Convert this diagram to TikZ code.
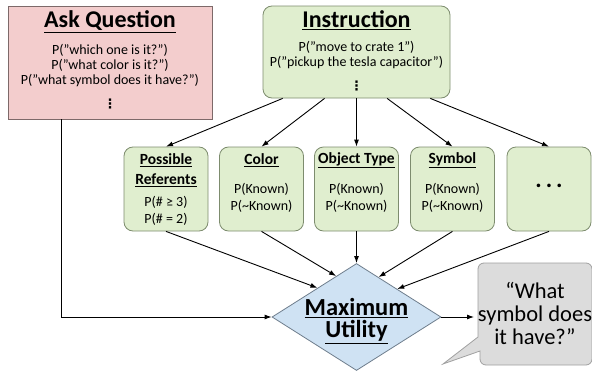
\documentclass[tikz,border=0pt]{standalone}
\usepackage{fontspec}
\setmainfont{Carlito}
\newfontfamily\dejavufont{DejaVu Sans}
\usetikzlibrary{shapes.geometric,arrows.meta,calc}
\definecolor{pinkfill}{RGB}{243,205,205}
\definecolor{pinkdraw}{RGB}{125,105,105}
\definecolor{greenfill}{RGB}{224,238,207}
\definecolor{greendraw}{RGB}{125,140,110}
\definecolor{bluefill}{RGB}{207,226,243}
\definecolor{bluedraw}{RGB}{110,125,140}
\definecolor{greyfill}{RGB}{220,220,220}
\definecolor{greydraw}{RGB}{160,160,160}
\tikzset{
  pinkbox/.style={draw=pinkdraw, fill=pinkfill, line width=0.8pt, inner sep=0pt},
  greenbox/.style={draw=greendraw, fill=greenfill, line width=0.8pt, rounded corners=9pt, inner sep=0pt},
  bigtitle/.style={font=\fontsize{24}{26}\selectfont\bfseries, inner sep=0pt},
  smalltitle/.style={font=\fontsize{15.5}{17}\selectfont\bfseries, inner sep=0pt},
  body/.style={font=\fontsize{14}{16}\selectfont, inner sep=0pt},
  dots/.style={font=\dejavufont\fontsize{13}{13}\selectfont\bfseries, inner sep=0pt},
  conn/.style={line width=0.9pt, -{Latex[length=7pt,width=5pt]}},
}
\begin{document}
\begin{tikzpicture}[x=1pt,y=-1pt]
\useasboundingbox (0,0) rectangle (592,372);
% Ask Question
\node[pinkbox, minimum width=204pt, minimum height=113pt] (ask) at (110,62.5) {};
\node[bigtitle] (askt) at (110,22) {\underline{Ask Question}};
\node[body] (ask1) at (110,50) {P(”which one is it?”)};
\node[body] (ask2) at (110,65.5) {P(”what color is it?”)};
\node[body] (ask3) at (110,81) {P(”what symbol does it have?”)};
\node[dots] (ask4) at (110,104) {⋮};
% Instruction
\node[greenbox, minimum width=187pt, minimum height=92pt] (ins) at (356.5,52) {};
\node[bigtitle] (inst) at (356.5,20) {\underline{Instruction}};
\node[body] (ins1) at (356.5,47) {P(”move to crate 1”)};
\node[body] (ins2) at (356.5,63) {P(”pickup the tesla capacitor”)};
\node[dots] (ins3) at (356.5,86) {⋮};
% Row of boxes
\node[greenbox, minimum width=84pt, minimum height=84pt] (pr) at (166,189) {};
\node[greenbox, minimum width=84pt, minimum height=84pt] (col) at (261.5,189) {};
\node[greenbox, minimum width=84pt, minimum height=84pt] (obj) at (356.5,189) {};
\node[greenbox, minimum width=84pt, minimum height=84pt] (sym) at (452.5,189) {};
\node[greenbox, minimum width=84pt, minimum height=84pt] (etc) at (549,189) {};
\node[smalltitle] (prt1) at (166,160) {\underline{Possible}};
\node[smalltitle] (prt2) at (166,180) {\underline{Referents}};
\node[body] (pr1) at (166,202) {P(\# ≥ 3)};
\node[body] (pr2) at (166,219) {P(\# = 2)};
\node[smalltitle] (colt) at (261.5,160) {\underline{Color}};
\node[body] (col1) at (261.5,189) {P(Known)};
\node[body] (col2) at (261.5,206) {P(\textasciitilde Known)};
\node[smalltitle] (objt) at (356.5,160) {\underline{Object Type}};
\node[body] (obj1) at (356.5,189) {P(Known)};
\node[body] (obj2) at (356.5,206) {P(\textasciitilde Known)};
\node[smalltitle] (symt) at (452.5,160) {\underline{Symbol}};
\node[body] (sym1) at (452.5,189) {P(Known)};
\node[body] (sym2) at (452.5,206) {P(\textasciitilde Known)};
\node[font=\fontsize{24}{24}\selectfont\bfseries, inner sep=0pt] (etct) at (549,186) {\textbf{.\,.\,.}};
% Diamond
\node[diamond, draw=bluedraw, fill=bluefill, line width=0.8pt, minimum width=169pt, minimum height=107pt, inner sep=0pt] (dia) at (356.5,317) {};
\node[font=\fontsize{24.5}{26}\selectfont\bfseries, inner sep=0pt] (dia1) at (356.5,308) {\underline{Maximum}};
\node[font=\fontsize{24.5}{26}\selectfont\bfseries, inner sep=0pt] (dia2) at (356.5,332) {\underline{Utility}};
% Speech bubble
\draw[draw=greydraw, fill=greyfill, line width=0.8pt]
  (478,337) -- (478,269) arc[start angle=180, end angle=90, radius=6pt]
  -- (586,263) arc[start angle=90, end angle=0, radius=6pt]
  -- (592,359) arc[start angle=0, end angle=-90, radius=6pt]
  -- (486,365) arc[start angle=270, end angle=180, radius=6pt]
  -- (480,351) -- (443,364) -- cycle;
\node[font=\fontsize{22.5}{25}\selectfont, align=center, inner sep=0pt] (bub) at (535,313) {“What\\[-2pt]symbol does\\[-2pt]it have?”};
\coordinate (bubin) at (474,317);
% Connectors
\draw[conn] ($(ins.south west)!0.107!(ins.south east)$) -- (pr.north);
\draw[conn] ($(ins.south west)!0.33!(ins.south east)$) -- (col.north);
\draw[conn] (ins.south) -- (obj.north);
\draw[conn] ($(ins.south west)!0.663!(ins.south east)$) -- (sym.north);
\draw[conn] ($(ins.south west)!0.893!(ins.south east)$) -- (etc.north);
\draw[conn] (pr.south) -- ($(dia.west)!0.54!(dia.north)$);
\draw[conn] (col.south) -- ($(dia.west)!0.76!(dia.north)$);
\draw[conn] (obj.south) -- (dia.north);
\draw[conn] (sym.south) -- ($(dia.north)!0.26!(dia.east)$);
\draw[conn] (etc.south) -- ($(dia.north)!0.48!(dia.east)$);
\draw[conn] ($(ask.south west)!0.265!(ask.south east)$) |- (dia.west);
\draw[conn] (dia.east) -- (bubin);
\end{tikzpicture}
\end{document}
